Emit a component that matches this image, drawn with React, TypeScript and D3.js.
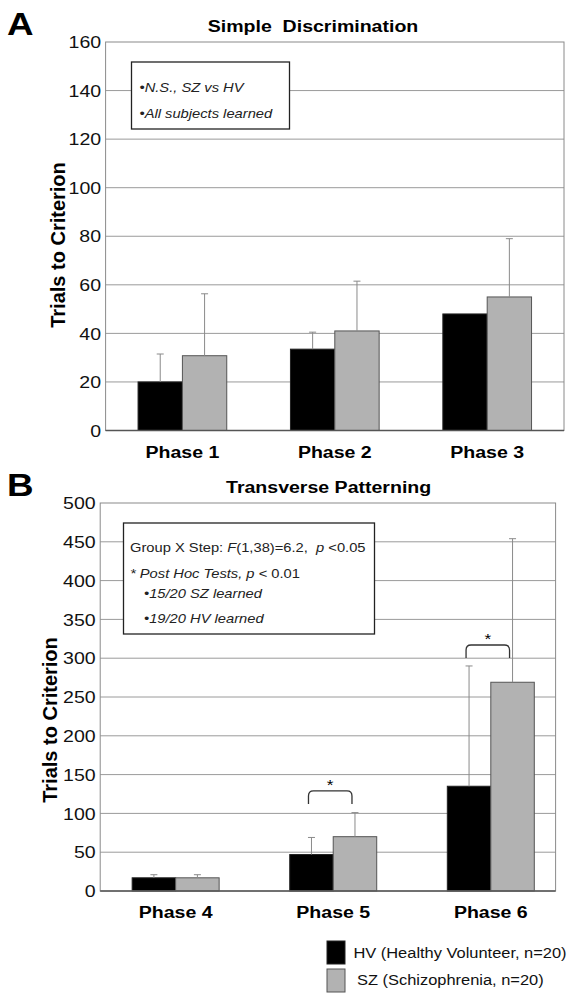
import * as d3 from "d3";

const FONT = "Arial, 'Liberation Sans', Helvetica, sans-serif";
// the source figure is stretched sideways, so text gets a horizontal scale
const SX = 1.15;

const groups = ["HV", "SZ"];
const groupFill = ["#000000", "#b2b2b2"];
const groupStroke = ["#222222", "#555555"];
const legendLabels = ["HV (Healthy Volunteer, n=20)", "SZ (Schizophrenia, n=20)"];

// Panel A: Simple Discrimination
const phasesA = ["Phase 1", "Phase 2", "Phase 3"];
const hvMeanA = [20, 33.5, 48];
const hvSdA = [11.5, 7, 0];
const szMeanA = [30.8, 41, 55];
const szSdA = [25.5, 20.5, 24];
const ticksA = [0, 20, 40, 60, 80, 100, 120, 140, 160];

// Panel B: Transverse Patterning
const phasesB = ["Phase 4", "Phase 5", "Phase 6"];
const hvMeanB = [17, 47, 135];
const hvSdB = [4, 22, 155];
const szMeanB = [17, 70, 269];
const szSdB = [4, 31, 185];
const ticksB = [0, 50, 100, 150, 200, 250, 300, 350, 400, 450, 500];
const sigPhasesB = ["Phase 5", "Phase 6"];
const sigTopB = [129, 317];

function T({
  x,
  y,
  children,
  ...rest
}: { x: number; y: number; children: React.ReactNode } & React.SVGProps<SVGTextElement>) {
  return (
    <text transform={`translate(${x},${y}) scale(${SX},1)`} fontFamily={FONT} {...rest}>
      {children}
    </text>
  );
}

interface PanelProps {
  letter: string;
  title: string;
  titleX: number;
  phases: string[];
  means: number[][];
  sds: number[][];
  ticks: number[];
  left: number;
  right: number;
  top: number;
  bottom: number;
  paddingInner: number;
  paddingOuter: number;
  align: number;
  yLabelX: number;
  yLabelY: number;
  sig?: { phase: string; top: number }[];
  note: React.ReactNode;
}

function Panel(p: PanelProps) {
  const y = d3
    .scaleLinear()
    .domain([0, p.ticks[p.ticks.length - 1]])
    .range([p.bottom, p.top]);
  const x = d3
    .scaleBand()
    .domain(p.phases)
    .range([p.left, p.right])
    .paddingInner(p.paddingInner)
    .paddingOuter(p.paddingOuter)
    .align(p.align);
  const xg = d3.scaleBand().domain(groups).range([0, x.bandwidth()]);
  const bw = xg.bandwidth();

  return (
    <g>
      <T x={7} y={p.top - 7} fontSize={32} fontWeight="bold">
        {p.letter}
      </T>
      <T
        x={p.titleX}
        y={p.top - 10}
        textAnchor="middle"
        fontSize={17}
        fontWeight="bold"
        style={{ whiteSpace: "pre" }}
      >
        {p.title}
      </T>

      {/* gridlines */}
      {p.ticks.slice(1, -1).map((t) => (
        <line key={t} x1={p.left} x2={p.right} y1={y(t)} y2={y(t)} stroke="#9a9a9a" strokeWidth={1} />
      ))}

      {/* tick labels */}
      {p.ticks.map((t) => (
        <T key={t} x={p.left - 4.5} y={y(t)} dy="0.36em" textAnchor="end" fontSize={17} fill="#111">
          {t}
        </T>
      ))}

      {/* note box */}
      {p.note}

      {/* bars */}
      {p.phases.map((ph, i) =>
        groups.map((g, k) => {
          const x0 = (x(ph) || 0) + (xg(g) || 0);
          const v = p.means[k][i];
          return (
            <rect
              key={ph + g}
              x={x0}
              y={y(v)}
              width={bw}
              height={p.bottom - y(v)}
              fill={groupFill[k]}
              stroke={groupStroke[k]}
              strokeWidth={1}
            />
          );
        })
      )}

      {/* error bars (upper only) */}
      {p.phases.map((ph, i) =>
        groups.map((g, k) => {
          const sd = p.sds[k][i];
          if (!sd) return null;
          const cx = (x(ph) || 0) + (xg(g) || 0) + bw / 2;
          const v = p.means[k][i];
          return (
            <g key={"e" + ph + g} stroke="#8a8a8a" strokeWidth={1}>
              <line x1={cx} x2={cx} y1={y(v)} y2={y(v + sd)} />
              <line x1={cx - 3.5} x2={cx + 3.5} y1={y(v + sd)} y2={y(v + sd)} />
            </g>
          );
        })
      )}

      {/* significance brackets */}
      {p.sig?.map((s) => {
        const x1 = (x(s.phase) || 0) + (xg("HV") || 0) + bw / 2 - 3;
        const x2 = (x(s.phase) || 0) + (xg("SZ") || 0) + bw / 2 - 3;
        const yt = y(s.top);
        const yb = yt + 13;
        const r = 5;
        return (
          <g key={"s" + s.phase}>
            <path
              d={`M${x1},${yb} L${x1},${yt + r} Q${x1},${yt} ${x1 + r},${yt} L${x2 - r},${yt} Q${x2},${yt} ${x2},${yt + r} L${x2},${yb}`}
              fill="none"
              stroke="#333"
              strokeWidth={1.3}
            />
            <T x={(x1 + x2) / 2} y={yt - 1} textAnchor="middle" fontSize={15}>
              *
            </T>
          </g>
        );
      })}

      {/* frame */}
      <rect
        x={p.left}
        y={p.top}
        width={p.right - p.left}
        height={p.bottom - p.top}
        fill="none"
        stroke="#8a8a8a"
        strokeWidth={1}
      />
      <line x1={p.left} x2={p.right} y1={p.bottom} y2={p.bottom} stroke="#555" strokeWidth={1.5} />

      {/* x labels */}
      {p.phases.map((ph) => (
        <T
          key={ph}
          x={(x(ph) || 0) + x.bandwidth() / 2}
          y={p.bottom + 27}
          textAnchor="middle"
          fontSize={17}
          fontWeight="bold"
        >
          {ph}
        </T>
      ))}

      {/* y label */}
      <text
        transform={`translate(${p.yLabelX},${p.yLabelY}) rotate(-90)`}
        textAnchor="middle"
        fontSize={20}
        fontWeight="bold"
        fontFamily={FONT}
      >
        Trials to Criterion
      </text>
    </g>
  );
}

export default function App() {
  const noteA = (
    <g fontSize={12.8} fill="#222">
      <rect x={131.5} y={62} width={158} height={67} fill="#fff" stroke="#222" strokeWidth={1.3} />
      <T x={139.5} y={92} fontStyle="italic">•N.S., SZ vs HV</T>
      <T x={139.5} y={118} fontStyle="italic">•All subjects learned</T>
    </g>
  );
  const noteB = (
    <g fontSize={12.8} fill="#222">
      <rect x={123.5} y={523} width={251} height={111} fill="#fff" stroke="#222" strokeWidth={1.3} />
      <T x={130} y={552} style={{ whiteSpace: "pre" }}>
        Group X Step: <tspan fontStyle="italic">F</tspan>(1,38)=6.2,{"  "}
        <tspan fontStyle="italic">p</tspan> {"<0.05"}
      </T>
      <T x={130} y={578} style={{ whiteSpace: "pre" }}>
        <tspan fontStyle="italic">* Post Hoc Tests, p</tspan> {"< 0.01"}
      </T>
      <T x={144} y={598} fontStyle="italic">•15/20 SZ learned</T>
      <T x={144} y={623} fontStyle="italic">•19/20 HV learned</T>
    </g>
  );

  return (
    <div style={{ position: "absolute", left: 0, top: 0 }}>
      <svg width={571} height={1000} style={{ display: "block", background: "#fff" }}>
        <Panel
          letter="A"
          title={"Simple  Discrimination"}
          titleX={313}
          phases={phasesA}
          means={[hvMeanA, szMeanA]}
          sds={[hvSdA, szSdA]}
          ticks={ticksA}
          left={105.6}
          right={564}
          top={42}
          bottom={430.5}
          paddingInner={0.418}
          paddingOuter={0.213}
          align={0.5}
          yLabelX={65}
          yLabelY={245}
          note={noteA}
        />
        <Panel
          letter="B"
          title="Transverse Patterning"
          titleX={328.6}
          phases={phasesB}
          means={[hvMeanB, szMeanB]}
          sds={[hvSdB, szSdB]}
          ticks={ticksB}
          left={100.2}
          right={555.6}
          top={503}
          bottom={891}
          paddingInner={0.448}
          paddingOuter={0.169}
          align={0.6}
          yLabelX={57}
          yLabelY={720}
          sig={sigPhasesB.map((ph, i) => ({ phase: ph, top: sigTopB[i] }))}
          note={noteB}
        />

        {/* legend */}
        {groups.map((g, k) => (
          <g key={g}>
            <rect
              x={327}
              y={941 + k * 28}
              width={18}
              height={23}
              fill={groupFill[k]}
              stroke={groupStroke[k]}
              strokeWidth={1}
            />
            <T x={353.4 + k * 3.6} y={953 + k * 27} dy="0.36em" fontSize={14.3} fill="#111">
              {legendLabels[k]}
            </T>
          </g>
        ))}
      </svg>
    </div>
  );
}
